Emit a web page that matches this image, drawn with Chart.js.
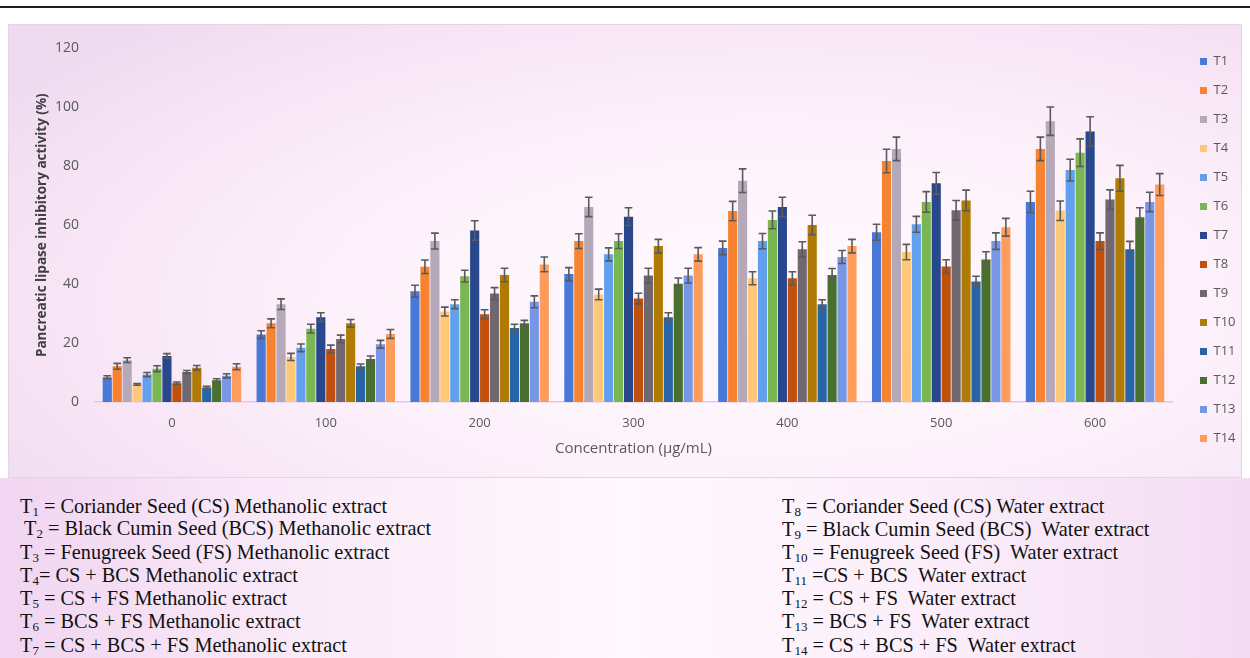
<!DOCTYPE html>
<html>
<head>
<meta charset="utf-8">
<script src="https://cdn.jsdelivr.net/npm/chart.js@4.4.1/dist/chart.umd.min.js"></script>
<style>
  html, body { margin: 0; padding: 0; background: #ffffff; }
  body { width: 1250px; height: 658px; position: relative; overflow: hidden; }
  #rule { position: absolute; left: 0; top: 6px; width: 1250px; height: 2px; background: #1e1e1e; }
  #panel {
    position: absolute; left: 8px; top: 24px; width: 1232px; height: 452px;
    border: 1px solid #e4d4e4;
    background: radial-gradient(ellipse 75% 85% at 62% 62%, #fffafe 0%, #fdf2fb 45%, #f8e6f6 75%, #efdbf0 100%);
  }
  #notes {
    position: absolute; left: 0; top: 478px; width: 1250px; height: 180px;
    background: linear-gradient(to right, #f1d5f1 0%, #f9e9f8 22%, #fff9fd 50%, #fbeefa 75%, #f3dcf3 100%);
  }
  #chart { position: absolute; left: 0; top: 24px; }
  .ln {
    position: absolute; font-family: "Liberation Serif", "Times New Roman", serif;
    font-size: 20.3px; line-height: 23px; color: #111; white-space: pre;
  }
  .ln sub { font-size: 13px; vertical-align: -3px; line-height: 0; }
</style>
</head>
<body>
<div id="rule"></div>
<div id="panel"></div>
<div id="notes"></div>
<canvas id="chart" width="1250" height="454"></canvas>

<div class="ln" style="left:20px; top:495px">T<sub>1</sub> = Coriander Seed (CS) Methanolic extract</div>
<div class="ln" style="left:24px; top:517px">T<sub>2</sub> = Black Cumin Seed (BCS) Methanolic extract</div>
<div class="ln" style="left:20px; top:541px">T<sub>3</sub> = Fenugreek Seed (FS) Methanolic extract</div>
<div class="ln" style="left:20px; top:564px">T<sub>4</sub>= CS + BCS Methanolic extract</div>
<div class="ln" style="left:20px; top:587px">T<sub>5</sub> = CS + FS Methanolic extract</div>
<div class="ln" style="left:20px; top:610px">T<sub>6</sub> = BCS + FS Methanolic extract</div>
<div class="ln" style="left:20px; top:634px">T<sub>7</sub> = CS + BCS + FS Methanolic extract</div>

<div class="ln" style="left:782px; top:495px">T<sub>8</sub> = Coriander Seed (CS) Water extract</div>
<div class="ln" style="left:782px; top:518px">T<sub>9</sub> = Black Cumin Seed (BCS)  Water extract</div>
<div class="ln" style="left:782px; top:541px">T<sub>10</sub> = Fenugreek Seed (FS)  Water extract</div>
<div class="ln" style="left:782px; top:564px">T<sub>11</sub> =CS + BCS  Water extract</div>
<div class="ln" style="left:782px; top:587px">T<sub>12</sub> = CS + FS  Water extract</div>
<div class="ln" style="left:782px; top:610px">T<sub>13</sub> = BCS + FS  Water extract</div>
<div class="ln" style="left:782px; top:634px">T<sub>14</sub> = CS + BCS + FS  Water extract</div>

<script>
// Concentrations on the x axis (µg/mL)
const concentrations = ['0', '100', '200', '300', '400', '500', '600'];
const yTicks = [0, 20, 40, 60, 80, 100, 120];

// Mean inhibitory activity (%) for each treatment, one value per concentration
const t1  = [8.4, 22.9, 37.6, 43.4, 52.3, 57.6, 67.9];
const t2  = [12.1, 26.7, 45.9, 54.6, 64.8, 81.8, 85.9];
const t3  = [14.2, 33.2, 54.6, 66.2, 75.1, 85.9, 95.3];
const t4  = [6.0, 15.3, 30.7, 36.5, 42.0, 50.9, 64.9];
const t5  = [9.3, 18.4, 33.2, 50.1, 54.6, 60.3, 78.7];
const t6  = [11.3, 24.9, 42.7, 54.6, 61.8, 67.9, 84.6];
const t7  = [15.6, 28.8, 58.2, 62.9, 66.2, 74.2, 91.8];
const t8  = [6.4, 18.0, 29.8, 35.1, 42.0, 46.0, 54.6];
const t9  = [10.2, 21.4, 36.8, 42.9, 51.8, 65.1, 68.7];
const t10 = [11.6, 26.7, 43.1, 52.9, 60.1, 68.4, 75.9];
const t11 = [4.9, 12.1, 25.1, 28.8, 33.2, 40.9, 51.8];
const t12 = [7.4, 14.6, 26.7, 40.1, 43.1, 48.4, 62.7];
const t13 = [8.9, 19.6, 34.0, 42.9, 49.2, 54.6, 67.9];
const t14 = [12.0, 23.1, 46.7, 50.1, 52.9, 59.3, 73.8];

// Standard deviations drawn as error bars
const t1Err  = [0.5, 1.3, 2.0, 2.2, 2.3, 2.7, 3.6];
const t2Err  = [1.0, 1.5, 2.3, 2.5, 3.3, 4.0, 4.0];
const t3Err  = [0.8, 1.8, 2.7, 3.3, 4.0, 4.0, 4.8];
const t4Err  = [0.3, 1.2, 1.5, 1.8, 2.2, 2.6, 3.3];
const t5Err  = [0.7, 1.3, 1.5, 2.2, 2.6, 2.7, 3.7];
const t6Err  = [1.0, 1.5, 2.0, 2.5, 3.0, 3.5, 4.7];
const t7Err  = [0.8, 1.5, 3.3, 3.0, 3.3, 3.7, 5.0];
const t8Err  = [0.4, 1.3, 1.5, 1.8, 2.2, 2.3, 2.8];
const t9Err  = [0.5, 1.3, 2.0, 2.5, 2.6, 3.3, 3.3];
const t10Err = [0.8, 1.3, 2.3, 2.3, 3.3, 3.5, 4.4];
const t11Err = [0.4, 0.8, 1.3, 1.5, 1.5, 1.8, 2.7];
const t12Err = [0.5, 1.0, 1.0, 2.0, 2.2, 2.6, 3.2];
const t13Err = [0.7, 1.3, 2.0, 2.5, 2.2, 2.8, 3.3];
const t14Err = [1.0, 1.5, 2.5, 2.3, 2.3, 3.0, 3.7];

const seriesNames = ['T1', 'T2', 'T3', 'T4', 'T5', 'T6', 'T7', 'T8', 'T9', 'T10', 'T11', 'T12', 'T13', 'T14'];
const seriesValues = [t1, t2, t3, t4, t5, t6, t7, t8, t9, t10, t11, t12, t13, t14];
const seriesErrors = [t1Err, t2Err, t3Err, t4Err, t5Err, t6Err, t7Err, t8Err, t9Err, t10Err, t11Err, t12Err, t13Err, t14Err];
const seriesColors = ['#4878d8', '#f7822f', '#b5a9b9', '#ffc878', '#62a0ee', '#7ab752', '#28478c',
                      '#c0500c', '#706870', '#b07b04', '#2864a8', '#4a7030', '#7896e6', '#ff9c5c'];

const uiFont = '"Open Sans", "Noto Sans", sans-serif';

const datasets = seriesNames.map((name, i) => ({
  label: name,
  data: seriesValues[i],
  errors: seriesErrors[i],
  backgroundColor: seriesColors[i],
  borderWidth: 0,
  categoryPercentage: 0.905,
  barPercentage: 0.92
}));

// Draws ± error bars with caps over every bar, using the value scale
const errorBars = {
  id: 'errorBars',
  afterDatasetsDraw(chart) {
    const ctx = chart.ctx;
    const yScale = chart.scales.y;
    ctx.save();
    ctx.strokeStyle = '#5a5a5a';
    ctx.lineWidth = 1.6;
    chart.data.datasets.forEach((ds, di) => {
      const meta = chart.getDatasetMeta(di);
      meta.data.forEach((bar, j) => {
        const v = ds.data[j], e = ds.errors[j];
        const yHi = yScale.getPixelForValue(v + e);
        const yLo = yScale.getPixelForValue(v - e);
        const half = bar.width * 0.42;
        ctx.beginPath();
        ctx.moveTo(bar.x, yHi); ctx.lineTo(bar.x, yLo);
        ctx.moveTo(bar.x - half, yHi); ctx.lineTo(bar.x + half, yHi);
        ctx.moveTo(bar.x - half, yLo); ctx.lineTo(bar.x + half, yLo);
        ctx.stroke();
      });
    });
    ctx.restore();
  }
};

// Empty spacer axes, used only to reserve room around the plot
const spacer = (position, size) => ({
  type: 'linear', position, display: true,
  grid: { display: false, drawTicks: false },
  border: { display: false },
  ticks: { display: false },
  afterFit(s) { if (s.isHorizontal()) s.height = size; else s.width = size; }
});

new Chart(document.getElementById('chart').getContext('2d'), {
  type: 'bar',
  data: { labels: concentrations, datasets },
  plugins: [errorBars],
  options: {
    responsive: false,
    animation: false,
    layout: { padding: { top: 15, bottom: 0, left: 0, right: 11 } },
    plugins: {
      tooltip: { enabled: false },
      legend: {
        position: 'right',
        align: 'start',
        maxWidth: 55,
        labels: {
          boxWidth: 7, boxHeight: 7, padding: 16,
          color: '#595959',
          font: { family: uiFont, size: 13 }
        }
      }
    },
    scales: {
      x: {
        grid: { display: false, drawTicks: false },
        border: { display: true, color: '#e0cce0', width: 1.5 },
        ticks: { color: '#595959', font: { family: uiFont, size: 13 }, padding: 13 },
        title: {
          display: true, text: 'Concentration (µg/mL)', color: '#595959',
          font: { family: uiFont, size: 15 }, padding: { top: 0, bottom: 20 }
        },
        afterFit(s) { s.height = 76; }
      },
      y: {
        min: 0, max: 120,
        afterBuildTicks(s) { s.ticks = yTicks.map(v => ({ value: v })); },
        grid: { display: false, drawTicks: false },
        border: { display: false },
        ticks: { color: '#595959', font: { family: uiFont, size: 14 }, padding: 16 },
        title: {
          display: true, text: 'Pancreatic lipase inhibitory activity (%)', color: '#404040',
          font: { family: uiFont, size: 13.5, weight: 'bold' }, padding: { top: 34, bottom: 0 }
        },
        afterFit(s) { s.width = 95; }
      },
      topGap: spacer('top', 3),
      rightGap: spacer('right', 12)
    }
  }
});
</script>
</body>
</html>
